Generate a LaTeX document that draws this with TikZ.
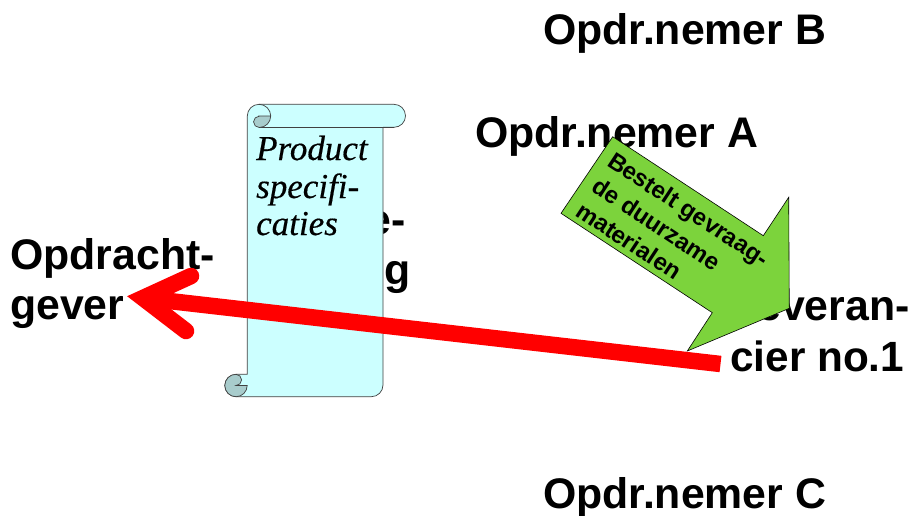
\documentclass[tikz,border=0pt]{standalone}
\usepackage{fontspec}
\setmainfont{Liberation Sans}
\newfontfamily\scrollfont[FakeBold=0.4]{Liberation Serif}
\definecolor{scrollfill}{HTML}{CCFFFF}
\definecolor{curlfill}{HTML}{A8CCCC}
\definecolor{greenfill}{HTML}{7CD33C}
\tikzset{
  biglabel/.style={font=\fontsize{42.8}{50}\selectfont\bfseries, inner sep=0pt, anchor=base west, align=left},
  outline/.style={draw=black!75, line width=0.7pt},
  redarrow/.style={draw=red, line width=16.5pt},
  orderlabel/.style={font=\fontsize{24}{28}\selectfont\bfseries, inner sep=0pt, anchor=base west},
  scrolllabel/.style={font=\fontsize{35}{42}\selectfont\scrollfont\itshape, inner sep=0pt, anchor=base west}
}
\begin{document}
\begin{tikzpicture}[x=1pt,y=-1pt]
\useasboundingbox (0,0) rectangle (911,515);
\fill[white] (0,0) rectangle (911,515);
\node[biglabel] (b) at (543,44) {Opdr.nemer B};
\node[biglabel] (a) at (475,147) {Opdr.nemer A};
\node[biglabel] (c) at (543,508) {Opdr.nemer C};
\node[biglabel] (g1) at (10,269) {Opdracht-};
\node[biglabel] (g2) at (10,319) {gever};
\node[biglabel] (h1) at (367,234) {e-};
\node[biglabel] (h2) at (384,284) {g};
\node[biglabel] (l1) at (731,320) {Leveran-};
\node[biglabel] (l2) at (730,371) {\fontsize{42.3}{50}\selectfont cier no.1};
% scroll
\draw[outline, fill=scrollfill]
  (247.3,116) arc[start angle=180,end angle=270,radius=11.7]
  -- (394,104.3) arc[start angle=270,end angle=450,radius=11.5]
  -- (383,127.3) -- (383,385) arc[start angle=0,end angle=90,radius=11.7]
  -- (236,396.7) arc[start angle=90,end angle=270,radius=11.2]
  -- (247.3,374.3) -- cycle;
\fill[scrollfill] (259,104.6) rectangle (383,127);
\draw[outline] (259,127.3) -- (394,127.3);
\draw[outline] (259,104.3) arc[start angle=270,end angle=360,radius=11.7];
\draw[outline, fill=curlfill]
  (259,116) -- (270.7,116) arc[start angle=0,end angle=90,radius=11.5]
  arc[start angle=90,end angle=270,radius=5.65] -- cycle;
\draw[outline, fill=curlfill]
  (236,374.3) arc[start angle=270,end angle=90,radius=11.2]
  arc[start angle=90,end angle=0,radius=11.2]
  -- (236,385.5) arc[start angle=90,end angle=-90,radius=5.6] -- cycle;
\node[scrolllabel] (p1) at (256,160) {Product};
\node[scrolllabel] (p2) at (256,198) {specifi-};
\node[scrolllabel] (p3) at (256,235) {caties};
% green arrow
\draw[fill=greenfill, draw=black, line width=0.6pt]
 (612.7,136.7) -- (763.3,235.7) -- (788.7,197.3) -- (789.3,308.3) -- (687.3,351) -- (712.3,312.7) -- (561,213.3) -- cycle;
\node[orderlabel, rotate=-33.3] (o1) at (606,165) {Bestelt gevraag-};
\node[orderlabel, rotate=-33.3] (o2) at (590,190) {de duurzame};
\node[orderlabel, rotate=-33.3] (o3) at (574,215) {materialen};
% red arrow
\coordinate (rs) at (720.5,364);
\coordinate (rt) at (143,298);
\coordinate (ru) at (191,276);
\coordinate (rl) at (186,331);
\draw[redarrow] (rs) -- (rt);
\draw[redarrow, line cap=round, miter limit=10, line join=miter] (ru) -- (rt) -- (rl);
\end{tikzpicture}
\end{document}
